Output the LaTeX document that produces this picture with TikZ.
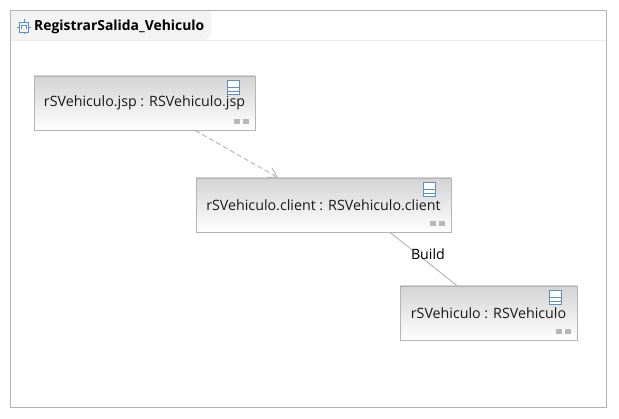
\documentclass[tikz,border=0pt]{standalone}
\usepackage{fontspec}
\setmainfont{Open Sans}
\usetikzlibrary{calc,arrows.meta}
\definecolor{edgegray}{HTML}{B4B4B4}
\definecolor{iconblue}{HTML}{5A8FC8}
\definecolor{dotgray}{HTML}{B8B8B8}
\definecolor{tabgray}{HTML}{F3F3F3}
\tikzset{
  partbox/.style={draw=edgegray,line width=0.9pt,top color=black!17,bottom color=white,minimum height=54pt,inner sep=0pt,font=\fontsize{14.25pt}{16pt}\selectfont,text=black!90},
  conn/.style={draw=edgegray,line width=0.9pt},
}
\newcommand{\partdeco}[1]{%
  \draw[iconblue,line width=0.8pt,fill=white] ($(#1.north east)+(-28,-5)$) rectangle ($(#1.north east)+(-16,-19)$);
  \draw[iconblue,line width=0.8pt] ($(#1.north east)+(-28,-12)$) -- ($(#1.north east)+(-16,-12)$);
  \draw[iconblue,line width=0.8pt] ($(#1.north east)+(-28,-15.5)$) -- ($(#1.north east)+(-16,-15.5)$);
  \fill[dotgray] ($(#1.south east)+(-21,6)$) rectangle ($(#1.south east)+(-15.5,11)$);
  \fill[dotgray] ($(#1.south east)+(-12.5,6)$) rectangle ($(#1.south east)+(-6,11)$);
}
\begin{document}
\begin{tikzpicture}[x=1pt,y=1pt]
\useasboundingbox (0,0) rectangle (619,419);
\fill[white] (0,0) rectangle (619,419);
\fill[tabgray] (11,408) -- (211,408) -- (211,384) -- (206,379) -- (11,379) -- cycle;
\draw[black!8,line width=0.8pt] (11,378.5) -- (606,378.5);
\node[draw=edgegray,line width=0.9pt,minimum width=596pt,minimum height=397pt,inner sep=0pt] (frame) at (308,210) {};
\node[font=\bfseries\fontsize{13.9pt}{16pt}\selectfont,inner sep=0pt,anchor=west] (title) at (34,392) {RegistrarSalida\_Vehiculo};
\draw[iconblue,line width=0.8pt] (19.5,387) rectangle (28.5,397);
\draw[iconblue,line width=0.8pt] (17,392) -- (19.5,392) (28.5,392) -- (31,392) (24,397) -- (24,399.5) (24,387) -- (24,384.5);
\draw[iconblue,line width=0.8pt] (21.5,390) -- (21.5,393.5) -- (26.5,393.5) -- (26.5,390);
\node[partbox,minimum width=221pt] (jsp) at (144.5,316) {rSVehiculo.jsp : RSVehiculo.jsp};
\node[partbox,minimum width=255pt] (client) at (323.5,214) {rSVehiculo.client : RSVehiculo.client};
\node[partbox,minimum width=177pt] (model) at (488.5,106) {rSVehiculo : RSVehiculo};
\partdeco{jsp}
\partdeco{client}
\partdeco{model}
\draw[conn,dashed,dash pattern=on 5pt off 3pt,-{Straight Barb[length=9pt,width=11pt,line width=0.9pt]}]
  ($(jsp.south west)!0.7285!(jsp.south east)$) -- ($(client.north west)!0.3216!(client.north east)$);
\draw[conn] ($(client.south west)!0.76!(client.south east)$) -- ($(model.north west)!0.322!(model.north east)$)
  node[pos=0.5,xshift=4.5pt,yshift=5pt,font=\fontsize{14.2pt}{16pt}\selectfont,text=black,inner sep=0pt] (build) {Build};
\end{tikzpicture}
\end{document}
